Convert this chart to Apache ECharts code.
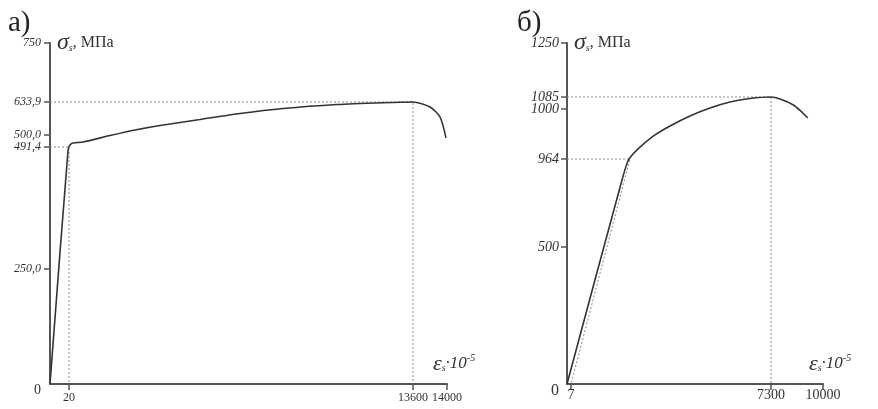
<!DOCTYPE html>
<html>
<head>
<meta charset="utf-8">
<script src="https://cdn.jsdelivr.net/npm/echarts@6/dist/echarts.min.js"></script>
<style>
  html, body { margin: 0; background: #fff; }
  #chart { width: 878px; height: 409px; }
</style>
</head>
<body>
<div id="chart"></div>
<script>
  // ---- panel а) : strain (x10^-5) / stress (MPa) ----
  var xTicksA = [20, 13600, 14000]
  var xLabelsA = ['20', '13600', '14000']
  var yTicksA = [0, 250, 491.4, 500, 633.9, 750]
  var yLabelsA = ['0', '250,0', '491,4', '500,0', '633,9', '750']
  var strainA = [0, 19, 60, 178, 573, 1639, 2625, 3612, 5191, 6771, 8468, 10600, 12416, 13600, 13800, 13918, 13988]
  var stressA = [0, 485.5, 492.8, 494.3, 495.0, 499.6, 520.3, 538.5, 562.9, 587.2, 607.5, 623.8, 631.1, 633.9, 613.6, 573.0, 497.9]

  // ---- panel б) ----
  var xTicksB = [7, 7300, 10000]
  var xLabelsB = ['7', '7300', '10000']
  var yTicksB = [0, 500, 964, 1000, 1085, 1250]
  var yLabelsB = ['0', '500', '964', '1000', '1085', '1250']
  var strainB = [0, 1867, 2085, 2268, 2523, 3070, 3617, 4346, 5076, 5805, 6534, 7300, 7776, 8465, 8835, 9206]
  var stressB = [0, 853.3, 953.5, 967.6, 972.6, 981.3, 987.8, 995.0, 1007.1, 1049.6, 1074.4, 1085, 1070.8, 1028.3, 998.6, 993.5]
  var elasticB = [[7, 0], [2158, 964]]   // пунктир упругого участка

  // схематичные (не в масштабе) оси: значение -> доля длины оси, %
  var scaleXA = { v: [0, 20, 13600, 14000], p: [0, 4.79, 91.44, 100] }
  var scaleYA = { v: [0, 250, 491.4, 500, 633.9, 750], p: [0, 33.72, 69.50, 73.02, 82.70, 100] }
  var scaleXB = { v: [0, 7, 7300, 10000], p: [0, 1.56, 79.69, 100] }
  var scaleYB = { v: [0, 500, 964, 1000, 1085, 1250], p: [0, 40.18, 65.98, 80.65, 84.16, 100] }

  function toPos (sc, val) {
    for (var i = 1; i < sc.v.length; i++) {
      if (val <= sc.v[i] || i === sc.v.length - 1) {
        var t = (val - sc.v[i - 1]) / (sc.v[i] - sc.v[i - 1])
        return sc.p[i - 1] + t * (sc.p[i] - sc.p[i - 1])
      }
    }
  }
  function pts (sx, sy, xs, ys) {
    return xs.map(function (x, i) { return [toPos(sx, x), toPos(sy, ys[i])] })
  }
  function pairs (sx, sy, arr) {
    return arr.map(function (d) { return [toPos(sx, d[0]), toPos(sy, d[1])] })
  }
  function labelOf (sc, ticks, labels, p) {
    for (var i = 0; i < ticks.length; i++) {
      if (Math.abs(toPos(sc, ticks[i]) - p) < 0.01) {
        return ticks[i] === 0 ? '{o|' + labels[i] + '}' : labels[i]
      }
    }
    return ''
  }

  var FONT = 'Liberation Serif'
  var AX = '#555'

  function xAxisOf (idx, sc, ticks, labels, fs, margin) {
    var vals = ticks.map(function (t) { return toPos(sc, t) })
    return {
      type: 'value', gridIndex: idx, min: 0, max: 100,
      axisLine: { show: true, lineStyle: { color: AX, width: 2 } },
      axisTick: { show: true, length: 6, customValues: vals, lineStyle: { color: AX, width: 1.5 } },
      axisLabel: {
        customValues: vals, margin: margin, color: '#333', fontFamily: FONT, fontSize: fs,
        formatter: function (p) { return labelOf(sc, ticks, labels, p) }
      },
      splitLine: { show: false },
      name: '{e|ε}{s|s}{t|·10}{p|-5}',
      nameLocation: 'end', nameGap: -14,
      nameTextStyle: {
        align: 'left', verticalAlign: 'bottom', padding: [0, 0, 9, 0],
        rich: {
          e: { fontFamily: FONT, fontStyle: 'italic', fontSize: 22, color: '#333' },
          s: { fontFamily: FONT, fontStyle: 'italic', fontSize: 10, color: '#333', padding: [8, 0, 0, 0] },
          t: { fontFamily: FONT, fontStyle: 'italic', fontSize: 17, color: '#333' },
          p: { fontFamily: FONT, fontStyle: 'italic', fontSize: 10, color: '#333', padding: [0, 0, 12, 0] }
        }
      }
    }
  }

  function yAxisOf (idx, sc, ticks, labels, fs, margin) {
    var vals = ticks.map(function (t) { return toPos(sc, t) })
    return {
      type: 'value', gridIndex: idx, min: 0, max: 100,
      axisLine: { show: true, lineStyle: { color: AX, width: 2 } },
      axisTick: { show: true, length: 6, customValues: vals.slice(1), lineStyle: { color: AX, width: 1.5 } },
      axisLabel: {
        customValues: vals, margin: margin, color: '#333', fontFamily: FONT, fontStyle: 'italic', fontSize: fs,
        formatter: function (p) { return labelOf(sc, ticks, labels, p) },
        rich: { o: { fontFamily: FONT, fontStyle: 'normal', fontSize: fs + 2, color: '#333', padding: [13, 0, 0, 0] } }
      },
      splitLine: { show: false },
      name: '{g|σ}{s|s}{t|, МПа}',
      nameLocation: 'end', nameGap: 0,
      nameTextStyle: {
        align: 'left', verticalAlign: 'middle', padding: [0, 0, 0, 7],
        rich: {
          g: { fontFamily: FONT, fontStyle: 'italic', fontSize: 24, color: '#333' },
          s: { fontFamily: FONT, fontStyle: 'italic', fontSize: 10, color: '#333', padding: [10, 0, 0, 0] },
          t: { fontFamily: FONT, fontSize: 16, color: '#333' }
        }
      }
    }
  }

  function dotted (idx, data) {
    return {
      type: 'line', xAxisIndex: idx, yAxisIndex: idx, data: data, symbol: 'none', silent: true,
      lineStyle: { color: '#888', width: 1, type: [2, 2] }, z: 1
    }
  }

  var chart = echarts.init(document.getElementById('chart'))
  chart.setOption({
    backgroundColor: '#fff',
    animation: false,
    title: [
      { text: 'а)', left: 8, top: 9, padding: 0, textStyle: { fontFamily: FONT, fontSize: 29, fontWeight: 'normal', color: '#222' } },
      { text: 'б)', left: 517, top: 9, padding: 0, textStyle: { fontFamily: FONT, fontSize: 29, fontWeight: 'normal', color: '#222' } }
    ],
    grid: [
      { left: 50, top: 43, width: 397, height: 341 },
      { left: 567, top: 43, width: 256, height: 341 }
    ],
    xAxis: [
      xAxisOf(0, scaleXA, xTicksA, xLabelsA, 12, 8),
      xAxisOf(1, scaleXB, xTicksB, xLabelsB, 14, 4)
    ],
    yAxis: [
      yAxisOf(0, scaleYA, yTicksA, yLabelsA, 12, 9),
      yAxisOf(1, scaleYB, yTicksB, yLabelsB, 14, 8)
    ],
    series: [
      dotted(0, pairs(scaleXA, scaleYA, [[0, 633.9], [13600, 633.9], [13600, 0]])),
      dotted(0, pairs(scaleXA, scaleYA, [[0, 491.4], [20, 491.4], [20, 0]])),
      dotted(1, pairs(scaleXB, scaleYB, [[0, 1085], [7300, 1085], [7300, 0]])),
      dotted(1, pairs(scaleXB, scaleYB, [[0, 964], elasticB[1], elasticB[0]])),
      {
        type: 'line', xAxisIndex: 0, yAxisIndex: 0, symbol: 'none', smooth: 0.25,
        data: pts(scaleXA, scaleYA, strainA, stressA),
        lineStyle: { color: '#333', width: 1.6 }, z: 3
      },
      {
        type: 'line', xAxisIndex: 1, yAxisIndex: 1, symbol: 'none', smooth: 0.25,
        data: pts(scaleXB, scaleYB, strainB, stressB),
        lineStyle: { color: '#333', width: 1.6 }, z: 3
      }
    ]
  })
</script>
</body>
</html>
